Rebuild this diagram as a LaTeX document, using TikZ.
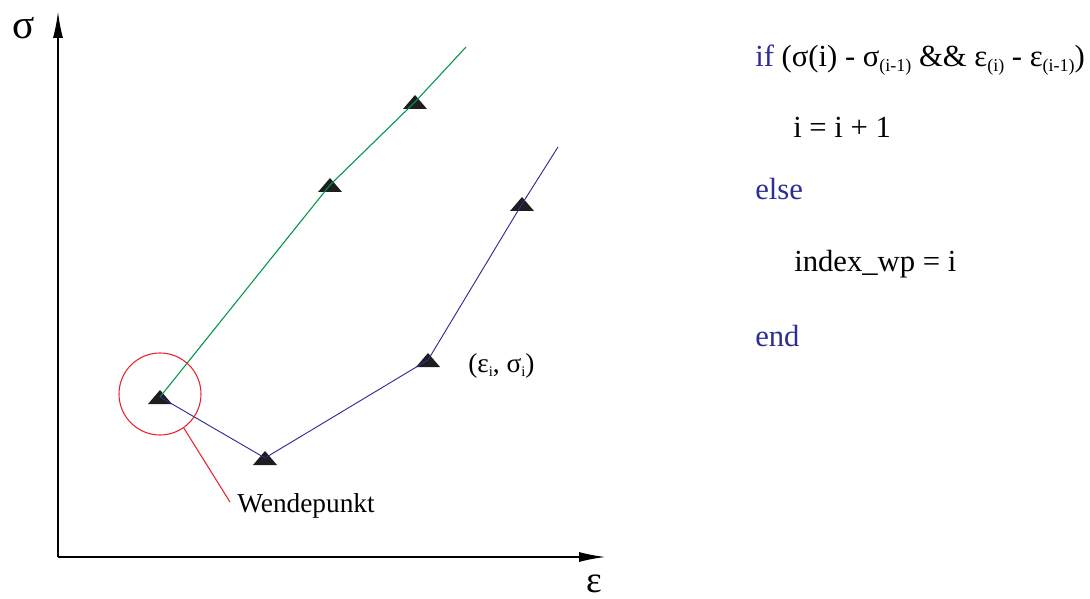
\documentclass[tikz,border=0pt]{standalone}
\usepackage{fontspec}
\setmainfont{Liberation Serif}
\usetikzlibrary{arrows.meta,calc}
\definecolor{cblue}{RGB}{45,45,150}
\definecolor{cgreen}{RGB}{0,150,70}
\definecolor{cred}{RGB}{230,35,45}
\definecolor{ctri}{RGB}{30,30,30}
\newcommand{\sbs}[1]{\raisebox{-0.3ex}{\fontsize{13.5}{13.5}\selectfont #1}}
\newcommand{\sbl}[1]{\raisebox{-0.3ex}{\fontsize{11}{11}\selectfont #1}}
\begin{document}
\begin{tikzpicture}[x=0.75pt,y=-0.75pt,
  axis/.style={line width=0.9pt,-{Latex[length=19.5pt,width=7.5pt]}},
  bluel/.style={cblue,line width=0.7pt},
  greenl/.style={cgreen,line width=0.8pt},
  redl/.style={cred,line width=0.8pt},
  code/.style={anchor=base west,inner sep=0pt,font=\fontsize{23}{23}\selectfont},
  kw/.style={code,text=cblue},
  lbl/.style={anchor=base west,inner sep=0pt,font=\fontsize{20.5}{20.5}\selectfont},
  axlbl/.style={inner sep=0pt,font=\fontsize{31}{31}\selectfont}]
\useasboundingbox (0,0) rectangle (1090,599);
% axes
\coordinate (O) at (58,557);
\coordinate (Ytip) at (58,12);
\coordinate (Xtip) at (605,557);
\draw[axis] (O) -- (Ytip);
\draw[axis] (O) -- (Xtip);
\node[axlbl] (sig) at (24,28) {σ};
\node[axlbl,font=\fontsize{28}{28}\selectfont,anchor=base,text depth=0pt,text height=14pt] (eps) at (594,592) {ε};
% points
\coordinate (p1) at (160,397);
\coordinate (p2) at (265,458);
\coordinate (p3) at (428,360);
\coordinate (p4) at (522,204);
\coordinate (p5) at (558,147);
\coordinate (g1) at (330,185);
\coordinate (g2) at (415,102);
\coordinate (g3) at (466,47);
% triangles
\foreach \p in {p1,p2,p3,p4,g1,g2}
  \fill[ctri] ($(\p)+(0,-7)$) -- ($(\p)+(12,7)$) -- ($(\p)+(-12,7)$) -- cycle;
% lines
\draw[greenl] (p1) -- (g1) -- (g2) -- (g3);
\draw[bluel] (p1) -- (p2) -- (p3) -- (p4) -- (p5);
% Wendepunkt
\node[draw=cred,line width=0.8pt,circle,minimum size=82*0.75pt,inner sep=0pt] (wc) at (160,394) {};
\node[lbl] (wp) at (237,512) {Wendepunkt};
\coordinate (wend) at (230,502);
\draw[redl] (wc.-55) -- (wend);
\node[lbl] (epsi) at (468,373) {(ε\sbl{i}, σ\sbl{i})};
% code
\node[code] (c1) at (755,67) {\textcolor{cblue}{if} (σ(i) - σ\sbs{(i-1)} \&\& ε\sbs{(i)} - ε\sbs{(i-1)})};
\node[code] (c2) at (793,138) {i = i + 1};
\node[kw] (c3) at (755,200) {else};
\node[code] (c4) at (794,272) {index\_wp = i};
\node[kw] (c5) at (755,347) {end};
\end{tikzpicture}
\end{document}
